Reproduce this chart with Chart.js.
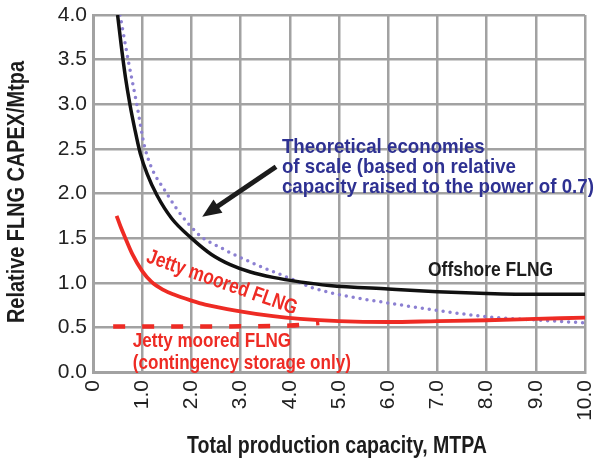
<!DOCTYPE html>
<html>
<head>
<meta charset="utf-8">
<script src="https://cdn.jsdelivr.net/npm/chart.js@4.4.1/dist/chart.umd.min.js"></script>
<style>
  html, body { margin: 0; padding: 0; background: #fff; }
  #wrap { width: 598px; height: 461px; position: relative; }
</style>
</head>
<body>
<div id="wrap"><canvas id="chart" width="598" height="461"></canvas></div>
<script>
// values
var offshoreX = [0.50, 0.58, 0.66, 0.75, 0.85, 0.96, 1.1, 1.3, 1.6, 2.0, 2.4, 2.8, 3.2, 3.66, 4.2, 4.8, 6.0, 7.0, 8.0, 9.0, 10.0]
var offshoreY = [4.0, 3.63, 3.3, 3.0, 2.72, 2.45, 2.22, 1.98, 1.72, 1.5, 1.32, 1.2, 1.12, 1.06, 1.01, 0.97, 0.93, 0.90, 0.88, 0.87, 0.87]

var theoryX = [0.55, 0.72, 0.89, 1.06, 1.5, 2.13, 2.64, 3.33, 4.0, 4.48, 5.16, 6.04, 7.0, 8.0, 9.09, 10.0]
var theoryY = [4.0, 3.48, 3.0, 2.5, 2.0, 1.55, 1.38, 1.2, 1.05, 0.94, 0.85, 0.77, 0.69, 0.62, 0.58, 0.55]

var jettyX = [0.48, 0.56, 0.65, 0.8, 1.0, 1.19, 1.43, 1.63, 2.0, 2.28, 2.99, 3.66, 4.21, 5.0, 6.0, 7.0, 8.0, 9.0, 10.0]
var jettyY = [1.75, 1.63, 1.51, 1.32, 1.13, 1.01, 0.92, 0.87, 0.8, 0.755, 0.68, 0.625, 0.595, 0.57, 0.56, 0.57, 0.58, 0.595, 0.61]

var contX = [0.41, 2.0, 4.0, 4.6]
var contY = [0.51, 0.51, 0.52, 0.55]

var xTicks = [0, 1, 2, 3, 4, 5, 6, 7, 8, 9, 10]
var yTicks = [0, 0.5, 1, 1.5, 2, 2.5, 3, 3.5, 4]

var FONT = "'Liberation Sans', Arial, 'Noto Sans', sans-serif"
var RED = '#ee2b24'
var BLUE = '#2e3192'
var INK = '#1c1c1c'
var GRID = '#a2a2a2'

function pts(xs, ys) {
    var out = []
    for (var i = 0; i < xs.length; i++) out.push({x: xs[i], y: ys[i]})
    return out
}

// draw text squeezed horizontally by factor s (the original uses a condensed face)
function squeezed(ctx, text, x, y, s, align) {
    ctx.save()
    ctx.translate(x, y)
    ctx.scale(s, 1)
    ctx.textAlign = align || 'left'
    ctx.fillText(text, 0, 0)
    ctx.restore()
}
function fitScale(ctx, text, w) { return w / ctx.measureText(text).width }

// annotations placed in data coordinates
var notes = {
    id: 'notes',
    afterDatasetsDraw: function(chart) {
        var ctx = chart.ctx
        var xs = chart.scales.x, ys = chart.scales.y
        function px(v) { return xs.getPixelForValue(v) }
        function py(v) { return ys.getPixelForValue(v) }
        ctx.save()

        // arrow
        var x1 = px(3.72), y1 = py(2.30), x2 = px(2.22), y2 = py(1.74)
        var ang = Math.atan2(y2 - y1, x2 - x1)
        ctx.strokeStyle = INK
        ctx.fillStyle = INK
        ctx.lineWidth = 5
        ctx.beginPath()
        ctx.moveTo(x1, y1)
        ctx.lineTo(x2 - 12 * Math.cos(ang), y2 - 12 * Math.sin(ang))
        ctx.stroke()
        ctx.beginPath()
        ctx.moveTo(x2, y2)
        ctx.lineTo(x2 - 19 * Math.cos(ang) + 8 * Math.sin(ang), y2 - 19 * Math.sin(ang) - 8 * Math.cos(ang))
        ctx.lineTo(x2 - 19 * Math.cos(ang) - 8 * Math.sin(ang), y2 - 19 * Math.sin(ang) + 8 * Math.cos(ang))
        ctx.closePath()
        ctx.fill()

        ctx.textBaseline = 'middle'
        ctx.font = 'bold 21px ' + FONT
        ctx.fillStyle = BLUE
        var s = fitScale(ctx, 'capacity raised to the power of 0.7)', 312)
        squeezed(ctx, 'Theoretical economies', px(3.84), py(2.52), s)
        squeezed(ctx, 'of scale (based on relative', px(3.84), py(2.30), s)
        squeezed(ctx, 'capacity raised to the power of 0.7)', px(3.84), py(2.07), s)

        ctx.fillStyle = INK
        squeezed(ctx, 'Offshore FLNG', px(6.81), py(1.14), fitScale(ctx, 'Offshore FLNG', 125))

        ctx.fillStyle = RED
        s = fitScale(ctx, '(contingency storage only)', 218)
        squeezed(ctx, 'Jetty moored FLNG', px(0.81), py(0.35), s)
        squeezed(ctx, '(contingency storage only)', px(0.81), py(0.10), s)

        ctx.save()
        ctx.translate(px(2.62), py(1.0))
        ctx.rotate(19.5 * Math.PI / 180)
        squeezed(ctx, 'Jetty moored FLNG', 0, 0, s, 'center')
        ctx.restore()

        // axis titles
        ctx.fillStyle = INK
        ctx.font = 'bold 23px ' + FONT
        squeezed(ctx, 'Total production capacity, MTPA', 337, 447, fitScale(ctx, 'Total production capacity, MTPA', 300), 'center')
        ctx.save()
        ctx.translate(18, 192)
        ctx.rotate(-Math.PI / 2)
        squeezed(ctx, 'Relative FLNG CAPEX/Mtpa', 0, 0, fitScale(ctx, 'Relative FLNG CAPEX/Mtpa', 262), 'center')
        ctx.restore()

        ctx.restore()
    }
}

var ctx = document.getElementById('chart').getContext('2d')
new Chart(ctx, {
    type: 'line',
    data: {
        datasets: [
            {label: 'Offshore FLNG', data: pts(offshoreX, offshoreY), borderColor: '#111', borderWidth: 3.5, pointRadius: 0, cubicInterpolationMode: 'monotone', fill: false},
            {label: 'Jetty moored FLNG', data: pts(jettyX, jettyY), borderColor: RED, borderWidth: 3.8, pointRadius: 0, cubicInterpolationMode: 'monotone', fill: false},
            {label: 'Jetty moored FLNG (contingency storage only)', data: pts(contX, contY), borderColor: RED, borderWidth: 4.5, borderDash: [12, 17], pointRadius: 0, cubicInterpolationMode: 'monotone', fill: false},
            {label: 'Theoretical economies of scale', data: pts(theoryX, theoryY), borderColor: '#8c80d2', borderWidth: 3.5, borderDash: [0, 7], borderCapStyle: 'round', pointRadius: 0, cubicInterpolationMode: 'monotone', fill: false}
        ]
    },
    options: {
        responsive: false,
        animation: false,
        layout: {padding: {left: 0, right: 13, top: 15, bottom: 0}},
        plugins: {legend: {display: false}, tooltip: {enabled: false}},
        scales: {
            x: {
                type: 'linear', min: 0, max: 10,
                afterBuildTicks: function(s) { s.ticks = xTicks.map(function(v) { return {value: v} }) },
                afterFit: function(s) { s.height = 89; s.paddingLeft = 0; s.paddingRight = 0 },
                grid: {color: GRID, lineWidth: 2.5, drawTicks: false},
                border: {color: GRID, width: 3},
                ticks: {
                    minRotation: 90, maxRotation: 90, padding: 8, color: '#222',
                    font: {family: FONT, size: 21},
                    callback: function(v) { return v === 0 ? '0' : v.toFixed(1) }
                }
            },
            y: {
                type: 'linear', min: 0, max: 4,
                afterBuildTicks: function(s) { s.ticks = yTicks.map(function(v) { return {value: v} }) },
                afterFit: function(s) { s.width = 93; s.paddingTop = 0; s.paddingBottom = 0 },
                grid: {color: GRID, lineWidth: 2.5, drawTicks: false},
                border: {color: GRID, width: 3},
                ticks: {
                    padding: 6, color: '#222',
                    font: {family: FONT, size: 21},
                    callback: function(v) { return v.toFixed(1) }
                }
            }
        }
    },
    plugins: [notes]
})
</script>
</body>
</html>
